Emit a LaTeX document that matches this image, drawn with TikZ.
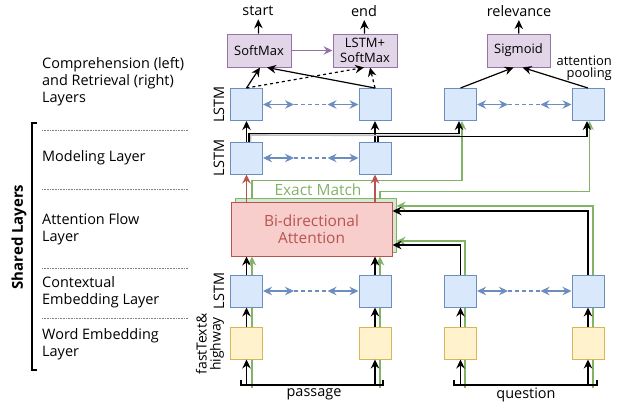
\documentclass[tikz,border=0pt]{standalone}
\usepackage{fontspec}
\setmainfont{Open Sans}
\usepackage{tikz}
\usetikzlibrary{arrows.meta}
\usetikzlibrary{positioning}
\definecolor{lstmfill}{HTML}{DAE8FC}
\definecolor{lstmline}{HTML}{6C8EBF}
\definecolor{embfill}{HTML}{FFF2CC}
\definecolor{embline}{HTML}{D6B656}
\definecolor{attfill}{HTML}{F8CECC}
\definecolor{attline}{HTML}{B85450}
\definecolor{outfill}{HTML}{E1D5E7}
\definecolor{outborder}{HTML}{9673A6}
\definecolor{emline}{HTML}{82B366}
\definecolor{emfill}{HTML}{D5E8D4}
\pgfdeclarelayer{background}
\pgfsetlayers{background,main}
\tikzset{lstm/.style = {draw=lstmline, fill=lstmfill, line width=1bp, minimum size=32bp, inner sep=0}}
\tikzset{emb/.style = {draw=embline, fill=embfill, line width=1bp, minimum size=32bp, inner sep=0}}
\tikzset{attbox/.style = {draw=attline, fill=attfill, line width=1bp, minimum width=161bp, minimum height=54bp, inner sep=0, align=center, text=attline, font=\fontsize{15.5}{16.5}\selectfont}}
\tikzset{attshadow/.style = {draw=emline, fill=emfill, line width=1bp, minimum width=161bp, minimum height=54bp, inner sep=0}}
\tikzset{outbox/.style = {draw=outborder, fill=outfill, line width=1bp, minimum width=64bp, minimum height=33bp, inner sep=0, align=center, font=\fontsize{13}{14.5}\selectfont}}
\tikzset{arr/.style = {line width=1.2bp, -{Stealth[length=9bp, width=8.5bp, inset=3bp]}}}
\tikzset{redarr/.style = {arr, draw=attline}}
\tikzset{purarr/.style = {arr, draw=outborder}}
\tikzset{garr/.style = {arr, draw=emline}}
\tikzset{bi/.style = {line width=1.2bp, draw=lstmline, {Stealth[length=9bp, width=8.5bp, inset=3bp]}-{Stealth[length=9bp, width=8.5bp, inset=3bp]}}}
\tikzset{layersep/.style = {densely dotted, gray, line width=0.6bp}}

\begin{document}
\begin{tikzpicture}[x=1bp, y=-1bp, font=\fontsize{14.5}{17}\selectfont]
    \useasboundingbox (0,0) rectangle (623,402);

    \node [lstm] (c1) at (246.5,104.5) {};
    \node [lstm] (c2) at (375,104.5) {};
    \node [lstm] (r1) at (460.5,104.5) {};
    \node [lstm] (r2) at (588,104.5) {};
    \node [lstm] (m1) at (246.5,158) {};
    \node [lstm] (m2) at (375,158) {};
    \node [lstm] (e1) at (246.5,291) {};
    \node [lstm] (e2) at (375,291) {};
    \node [lstm] (q1) at (460.5,291) {};
    \node [lstm] (q2) at (588,291) {};
    \node [emb] (w1) at (246.5,343) {};
    \node [emb] (w2) at (375,343) {};
    \node [emb] (wq1) at (460.5,343) {};
    \node [emb] (wq2) at (588,343) {};
    \node [attshadow] (attg) at (315.5,225) {};
    \node [attbox] (att) at (311.5,229) {Bi-directional\\Attention};
    \node [outbox] (sm) at (259,50.5) {SoftMax};
    \node [outbox] (ls) at (365,50.5) {LSTM+\\SoftMax};
    \node [outbox, minimum width=63bp] (sig) at (518.5,50.5) {Sigmoid};

    \node (st) at (258,11) {start};
    \node (en) at (364,11) {end};
    \node (rel) at (519,11) {relevance};
    \node [align=right, anchor=east, inner sep=0, font=\fontsize{13}{12}\selectfont] (pool) at (612,68) {attention\\pooling};
    \node [text=emline, font=\fontsize{15.5}{17}\selectfont] (em) at (318,190) {Exact Match};

    \coordinate (pb1) at (246.5,385);
    \coordinate (pb2) at (375,385);
    \coordinate (qb1) at (460.5,385);
    \coordinate (qb2) at (588,385);

    \begin{pgfonlayer}{background}
        \draw [garr] ([xshift=5.5bp, yshift=-3bp]pb1) -- ([xshift=5.5bp]pb1 |- att.south);
        \draw [garr] ([xshift=5bp, yshift=-3bp]pb2) -- ([xshift=5bp]pb2 |- att.south);
        \draw [garr] ([xshift=5.5bp]pb1 |- attg.north) -- ++(0,-17) -| ([xshift=1.5bp]r1.south);
        \draw [garr] ([xshift=5bp]pb2 |- attg.north) -- ++(0,-6) -| ([xshift=1.5bp]r2.south);
        \draw [garr] ([xshift=4.5bp, yshift=-3bp]qb1) |- ([yshift=-16bp]attg.east);
        \draw [garr] ([xshift=5bp, yshift=-3bp]qb2) |- ([yshift=19bp]attg.east);
    \end{pgfonlayer}

    \draw [arr] (sm) -- (st);
    \draw [arr] (ls) -- (en);
    \draw [arr] (sig) -- (rel);
    \draw [purarr] (sm) -- (ls);
    \draw [arr] (c1.north) -- ([xshift=1bp]sm.south);
    \draw [arr] (c2.north) -- ([xshift=8bp]sm.south);
    \draw [arr, dashed] (c1.north) -- ([xshift=-1bp]ls.south);
    \draw [arr, dashed] (c2.north) -- ([xshift=5bp]ls.south);
    \draw [arr] (r1.north) -- ([xshift=-5bp]sig.south);
    \draw [arr] (r2.north) -- ([xshift=4bp]sig.south);

    \foreach \a/\b in {c1/c2, r1/r2, m1/m2, e1/e2, q1/q2} {
        \draw [bi] (\a.east) -- ([xshift=31bp]\a.east);
        \draw [bi] ([xshift=-31bp]\b.west) -- (\b.west);
        \draw [lstmline, line width=1.2bp, dash pattern=on 4bp off 3bp] ([xshift=31bp]\a.east) -- ([xshift=-31bp]\b.west);
    }

    \foreach \w/\e/\b in {w1/e1/pb1, w2/e2/pb2, wq1/q1/qb1, wq2/q2/qb2} {
        \draw [arr] (\b) -- (\w);
        \draw [arr] (\w) -- (\e);
    }
    \draw [arr] (e1) -- (e1 |- att.south);
    \draw [arr] (e2) -- (e2 |- att.south);
    \draw [arr] (q1) |- ([yshift=-16bp]att.east);
    \draw [arr] (q2) |- ([yshift=18bp]att.east);
    \draw [redarr] (m1 |- att.north) -- (m1);
    \draw [redarr] (m2 |- att.north) -- (m2);
    \draw [arr] (m1) -- (c1);
    \draw [arr] (m2) -- (c2);
    \draw [gray!50, line width=1.6bp] ([xshift=4bp]m1.north) -- ++(0,-6.5) -- ([xshift=-0.5bp]r1.south |- 0,135.5);
    \draw [arr] ([xshift=2.5bp]m1.north) -- ++(0,-8) -| ([xshift=-1.5bp]r1.south);
    \draw [arr] ([xshift=3bp]m2.north) -- ++(0,-5) -| ([xshift=-1bp]r2.south);

    \draw [line width=1.2bp] (241,380) -- (241,385) -- (383,385) -- (383,380);
    \draw [line width=1.2bp] (454,380) -- (454,385) -- (597,385) -- (597,380);
    \node (pass) at (314,394.5) {passage};
    \node (ques) at (526,394.5) {question};

    \node [anchor=west, align=left, inner sep=0] (lcomp) at (42,82) {Comprehension (left)\\and Retrieval (right)\\Layers};
    \node [anchor=west, inner sep=0] (lmod) at (42,158) {Modeling Layer};
    \node [anchor=west, align=left, inner sep=0] (latt) at (42,229) {Attention Flow\\Layer};
    \node [anchor=west, align=left, inner sep=0] (lctx) at (42,292) {Contextual\\Embedding Layer};
    \node [anchor=west, align=left, inner sep=0] (lwrd) at (42,344) {Word Embedding\\Layer};
    \foreach \y in {130,189,268,318} \draw [layersep] (42,\y) -- (188,\y);
    \draw [line width=1.2bp] (37,123) -- (32,123) -- (32,370) -- (37,370);
    \node [rotate=90, font=\fontsize{15}{17}\bfseries] (shared) at (19,237) {Shared Layers};

    \foreach \y in {104.5,158,291} \node [rotate=90] at (219,\y) {LSTM};
    \node [rotate=90, align=center, font=\fontsize{14}{14}\selectfont] (fth) at (210,344) {fastText\&\\highway};
\end{tikzpicture}
\end{document}
